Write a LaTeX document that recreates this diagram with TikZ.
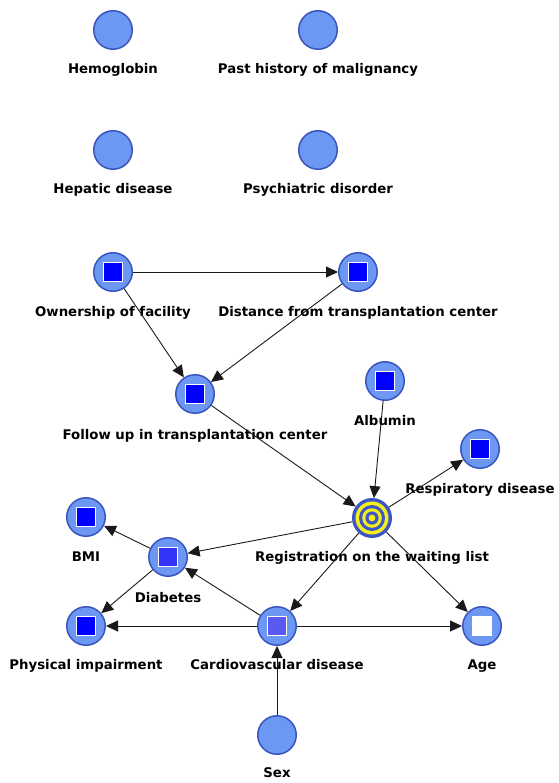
\documentclass[tikz,border=0pt]{standalone}
\usepackage{fontspec}
\setsansfont{DejaVu Sans}
\usepackage{xcolor}
\usetikzlibrary{arrows.meta}
\definecolor{nodeblue}{HTML}{6C98F4}
\definecolor{rimblue}{HTML}{3A55BE}
\definecolor{boxblue}{HTML}{0000FF}
\definecolor{boxmid}{HTML}{3434F6}
\definecolor{boxpale}{HTML}{5A5AF0}
\definecolor{ringblue}{HTML}{3F55C8}
\definecolor{ringyellow}{HTML}{F2F018}

\begin{document}
\begin{tikzpicture}[
                    x=1pt, y=-1pt,
                    >={Triangle[length=12pt,width=11pt]},
                    var/.style={circle, draw=rimblue, line width=1.5pt, fill=nodeblue, minimum size=38.5pt, inner sep=0pt},
                    box/.style={draw=white, line width=0.6pt, minimum size=19pt, inner sep=0pt},
                    lbl/.style={font=\sffamily\bfseries\fontsize{13.3}{15}\selectfont, inner sep=0pt, anchor=base},
                    edge/.style={->, draw=black!90, line width=0.9pt}
            ]
                \useasboundingbox (0,0) rectangle (558,783);

                \node [var] (hemo) at (113,30) {};
                \node [var] (past) at (318,30) {};
                \node [var] (hep) at (113,150) {};
                \node [var] (psy) at (318,150) {};
                \node [var] (own) at (113,272) {};
                \node [var] (dist) at (358,272) {};
                \node [var] (follow) at (195,394) {};
                \node [var] (alb) at (385,381) {};
                \node [var] (resp) at (480,449) {};
                \node [var] (bmi) at (86,517) {};
                \node [var] (diab) at (168,557) {};
                \node [var] (phys) at (86,626) {};
                \node [var] (cardio) at (277,626) {};
                \node [var] (age) at (482,626) {};
                \node [var] (sex) at (277,735) {};

                \node [circle, draw=rimblue, line width=1.5pt, fill=ringblue, minimum size=38.5pt, inner sep=0pt] (reg) at (372,518) {};
                \foreach \r/\c in {16.5/ringyellow, 13/ringblue, 9.8/ringyellow, 6.6/ringblue, 3.4/ringyellow}
                    \fill [\c] (reg) circle (\r pt);

                \node [box, fill=boxblue] (ownBox) at (own) {};
                \node [box, fill=boxblue] (distBox) at (dist) {};
                \node [box, fill=boxblue] (followBox) at (follow) {};
                \node [box, fill=boxblue] (albBox) at (alb) {};
                \node [box, fill=boxblue] (respBox) at (resp) {};
                \node [box, fill=boxblue] (bmiBox) at (bmi) {};
                \node [box, fill=boxmid] (diabBox) at (diab) {};
                \node [box, fill=boxblue] (physBox) at (phys) {};
                \node [box, fill=boxpale] (cardioBox) at (cardio) {};
                \node [box, fill=white] (ageBox) at (age) {};

                \node [lbl] (hemoL) at ([yshift=-44pt]hemo.center) {Hemoglobin};
                \node [lbl] (pastL) at ([yshift=-44pt]past.center) {Past history of malignancy};
                \node [lbl] (hepL) at ([yshift=-44pt]hep.center) {Hepatic disease};
                \node [lbl] (psyL) at ([yshift=-44pt]psy.center) {Psychiatric disorder};
                \node [lbl] (ownL) at ([yshift=-44pt]own.center) {Ownership of facility};
                \node [lbl] (distL) at ([yshift=-44pt]dist.center) {Distance from transplantation center};
                \node [lbl] (followL) at ([yshift=-45pt]follow.center) {Follow up in transplantation center};
                \node [lbl] (albL) at ([yshift=-44pt]alb.center) {Albumin};
                \node [lbl] (respL) at ([yshift=-44pt]resp.center) {Respiratory disease};
                \node [lbl] (regL) at ([yshift=-43pt]reg.center) {Registration on the waiting list};
                \node [lbl] (bmiL) at ([yshift=-44pt]bmi.center) {BMI};
                \node [lbl] (diabL) at ([yshift=-45pt]diab.center) {Diabetes};
                \node [lbl] (physL) at ([yshift=-43pt]phys.center) {Physical impairment};
                \node [lbl] (cardioL) at ([yshift=-43pt]cardio.center) {Cardiovascular disease};
                \node [lbl] (ageL) at ([yshift=-43pt]age.center) {Age};
                \node [lbl] (sexL) at ([yshift=-42pt]sex.center) {Sex};

                \draw [edge] (own) -- (dist);
                \draw [edge] (own) -- (follow);
                \draw [edge] (dist) -- (follow);
                \draw [edge] (follow) -- (reg);
                \draw [edge] (alb) -- (reg);
                \draw [edge] (reg) -- (resp);
                \draw [edge] (reg) -- (diab);
                \draw [edge] (reg) -- (cardio);
                \draw [edge] (reg) -- (age);
                \draw [edge] (diab) -- (bmi);
                \draw [edge] (diab) -- (phys);
                \draw [edge] (cardio) -- (diab);
                \draw [edge] (cardio) -- (phys);
                \draw [edge] (cardio) -- (age);
                \draw [edge] (sex) -- (cardio);
            \end{tikzpicture}
\end{document}
